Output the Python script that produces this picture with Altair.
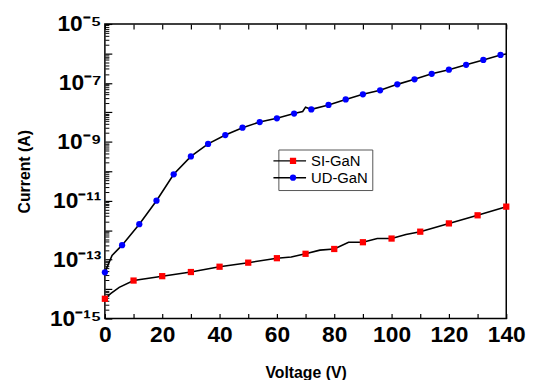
import altair as alt
import pandas as pd

# ---- data ----
ud_v = [0, 6, 12, 18, 24, 30, 36, 42, 48, 54, 60, 66, 72, 78, 84, 90, 96, 102, 108, 114, 120, 126, 132, 138]
ud_i = [3.7e-14, 3.1e-13, 1.6e-12, 1.0e-11, 7.9e-11, 3.2e-10, 8.5e-10, 1.7e-9, 3.0e-9, 4.7e-9,
        6.3e-9, 9.1e-9, 1.26e-8, 1.78e-8, 2.75e-8, 4.1e-8, 5.6e-8, 8.9e-8, 1.32e-7, 2.04e-7,
        2.8e-7, 4.1e-7, 6.0e-7, 8.9e-7]
ud_extra_v = [2.5, 69, 70, 140]
ud_extra_i = [1.4e-13, 1.07e-8, 1.5e-8, 9.5e-7]

si_v = [0, 10, 20, 30, 40, 50, 60, 70, 80, 90, 100, 110, 120, 130, 140]
si_i = [4.7e-15, 1.95e-14, 2.75e-14, 3.8e-14, 5.75e-14, 7.9e-14, 1.12e-13, 1.58e-13, 2.3e-13,
        3.9e-13, 5.2e-13, 8.9e-13, 1.7e-12, 3.2e-12, 6.3e-12]
si_extra_v = [2, 5, 65, 75, 85, 95, 105]
si_extra_i = [7.0e-15, 1.15e-14, 1.23e-13, 2.1e-13, 3.9e-13, 5.2e-13, 7.1e-13]

series_names = ["SI-GaN", "UD-GaN"]
series_colors = ["#ff0000", "#0000ff"]
series_shapes = ["square", "circle"]

y_label_exps = [-5, -7, -9, -11, -13, -15]
y_label_texts = ["10⁻⁵", "10⁻⁷", "10⁻⁹", "10⁻¹¹", "10⁻¹³", "10⁻¹⁵"]
x_ticks = list(range(0, 141, 10))

# ---- tables ----
markers = pd.concat([
    pd.DataFrame({"V": si_v, "I": si_i, "series": "SI-GaN"}),
    pd.DataFrame({"V": ud_v, "I": ud_i, "series": "UD-GaN"}),
])
lines = pd.concat([
    pd.DataFrame({"V": si_v, "I": si_i, "curve": "SI-GaN"}),
    pd.DataFrame({"V": ud_v, "I": ud_i, "curve": "UD-GaN"}),
    pd.DataFrame({"V": si_extra_v, "I": si_extra_i, "curve": "SI-GaN"}),
    pd.DataFrame({"V": ud_extra_v, "I": ud_extra_i, "curve": "UD-GaN"}),
]).sort_values(["curve", "V"])

major_vals = [10.0 ** e for e in range(-15, -4)]
minor_vals = [m * 10.0 ** e for e in range(-15, -5) for m in range(2, 10)]

expr = "''"
for e, t in zip(y_label_exps, y_label_texts):
    expr = f"round(log(datum.value)/LN10) == {e} ? '{t}' : ({expr})"

FONT = "Liberation Sans"
xscale = alt.Scale(domain=[0, 140], nice=False)
yscale = alt.Scale(type="log", domain=[1e-15, 1e-5], nice=False)

x_bottom = alt.Axis(orient="bottom", values=x_ticks, labelExpr="datum.value % 20 == 0 ? datum.label : ''",
                    domain=False, grid=False, offset=-5, tickSize=5, tickColor="black", tickWidth=1.2,
                    labelFont=FONT, labelFontSize=23, labelFontWeight="bold", labelColor="black",
                    labelPadding=5, labelFlush=False, labelOverlap=False,
                    title="Voltage (V)", titleFont=FONT, titleFontSize=16, titleFontWeight="bold",
                    titleColor="black", titlePadding=19)
x_top = alt.Axis(orient="top", values=x_ticks, labels=False, domain=False, grid=False, offset=-5,
                 tickSize=5, tickColor="black", tickWidth=1.2, title=None)
y_major = alt.Axis(orient="left", values=major_vals, labelExpr=expr, domain=False, grid=False,
                   offset=-7, tickSize=7, tickColor="black", tickWidth=1.2,
                   labelFont=FONT, labelFontSize=23, labelFontWeight="bold", labelColor="black",
                   labelPadding=4, labelOverlap=False, labelFlush=False,
                   title="Current (A)", titleFont=FONT, titleFontSize=16, titleFontWeight="bold",
                   titleColor="black", titlePadding=17)
y_minor = alt.Axis(orient="left", values=minor_vals, labels=False, domain=False, grid=False,
                   offset=-4, tickSize=4, tickColor="black", tickWidth=1, title=None)

stroke_scale = alt.Scale(range=["black", "black"])
line_legend = alt.Legend(title=None, orient="none", legendX=175.5, legendY=127, direction="vertical",
                         symbolType="M-3.3,0H3.3", symbolSize=100, symbolStrokeWidth=1.5,
                         labelFont=FONT, labelFontSize=15, labelColor="black", labelOffset=14,
                         rowPadding=1, padding=4, strokeColor="#555555", fillColor="white")
point_legend = alt.Legend(title=None, orient="none", legendX=178.8, legendY=127, direction="vertical",
                          symbolSize=40, symbolStrokeWidth=0, labelExpr="''",
                          labelFont=FONT, labelFontSize=15, rowPadding=1, padding=4)

base_line = alt.Chart(lines).mark_line(strokeWidth=1.6)
base_pt = alt.Chart(markers).mark_point(filled=True, opacity=1, strokeWidth=0)

l_ud = base_line.transform_filter("datum.curve == 'UD-GaN'").encode(
    x=alt.X("V:Q", scale=xscale, axis=x_bottom),
    y=alt.Y("I:Q", scale=yscale, axis=y_major),
    stroke=alt.Stroke("curve:N", scale=stroke_scale, legend=line_legend),
    order="V:Q",
)
l_si = base_line.transform_filter("datum.curve == 'SI-GaN'").encode(
    x=alt.X("V:Q", scale=xscale, axis=x_top),
    y=alt.Y("I:Q", scale=yscale, axis=y_minor),
    stroke=alt.Stroke("curve:N", scale=stroke_scale, legend=line_legend),
    order="V:Q",
)
pts = base_pt.encode(
    x=alt.X("V:Q", scale=xscale, axis=None),
    y=alt.Y("I:Q", scale=yscale, axis=None),
    fill=alt.Fill("series:N", scale=alt.Scale(domain=series_names, range=series_colors), legend=point_legend),
    shape=alt.Shape("series:N", scale=alt.Scale(domain=series_names, range=series_shapes), legend=point_legend),
    size=alt.value(40),
)

chart = alt.layer(l_ud, l_si, pts).resolve_axis(x="independent", y="independent").properties(
    width=406, height=298,
    autosize=alt.AutoSizeParams(type="none"),
    padding={"left": 98, "top": 14, "right": 22, "bottom": 60},
    background="white",
).configure_view(stroke="black", strokeWidth=1.5)

chart.save("out.html", embed_options={"renderer": "svg", "actions": False})
